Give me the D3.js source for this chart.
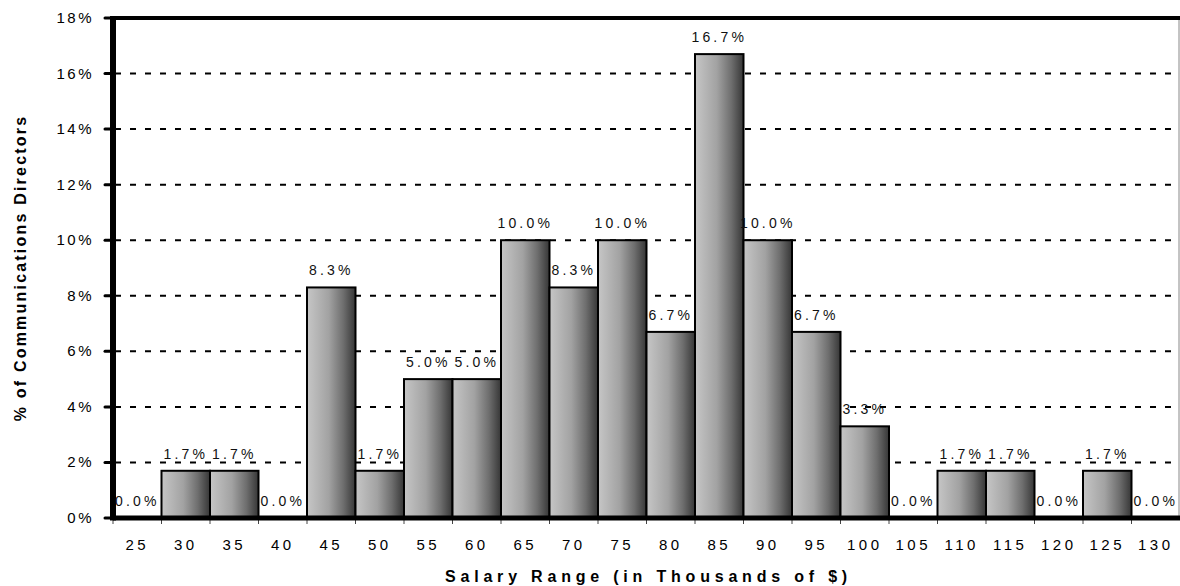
<!DOCTYPE html>
<html>
<head>
<meta charset="utf-8">
<script src="https://cdn.jsdelivr.net/npm/d3@7"></script>
<style>
  body { margin: 0; background: #fff; }
  text { font-family: "Liberation Sans", Arial, sans-serif; }
</style>
</head>
<body>
<script>
// Salary bins (thousands of $) and share of directors in each
const salaries = ['25', '30', '35', '40', '45', '50', '55', '60', '65', '70', '75',
                  '80', '85', '90', '95', '100', '105', '110', '115', '120', '125', '130']
const shares = [0.0, 1.7, 1.7, 0.0, 8.3, 1.7, 5.0, 5.0, 10.0, 8.3, 10.0,
                6.7, 16.7, 10.0, 6.7, 3.3, 0.0, 1.7, 1.7, 0.0, 1.7, 0.0]
const yTicks = [0, 2, 4, 6, 8, 10, 12, 14, 16, 18]

const width = 1180
const height = 586
const margin = {top: 18, right: 0, bottom: 68, left: 113}

const data = salaries.map((s, i) => ({salary: s, share: shares[i]}))

const svg = d3.select('body')
    .append('svg')
    .attr('width', width)
    .attr('height', height)

// bar gradient
const grad = svg.append('defs')
    .append('linearGradient')
    .attr('id', 'barGrad')
    .attr('x1', '0%').attr('x2', '100%')
    .attr('y1', '0%').attr('y2', '0%')
grad.append('stop').attr('offset', '0%').attr('stop-color', '#c6c6c6')
grad.append('stop').attr('offset', '45%').attr('stop-color', '#a2a2a2')
grad.append('stop').attr('offset', '75%').attr('stop-color', '#6e6e6e')
grad.append('stop').attr('offset', '100%').attr('stop-color', '#363636')

const xScale = d3.scaleBand()
    .domain(salaries)
    .range([margin.left, width - margin.right])
    .padding(0)

const yScale = d3.scaleLinear()
    .domain([0, 18])
    .range([height - margin.bottom, margin.top])

const y0 = yScale(0)
const plotMid = (margin.left + width - margin.right) / 2

// dashed grid lines
svg.append('g')
    .attr('class', 'grid')
    .selectAll('line')
    .data(yTicks.filter(d => d > 0 && d < 18))
    .enter()
    .append('line')
        .attr('x1', margin.left)
        .attr('x2', width - margin.right)
        .attr('y1', d => yScale(d))
        .attr('y2', d => yScale(d))
        .attr('stroke', '#000')
        .attr('stroke-width', 2)
        .attr('stroke-dasharray', '6,9')
        .attr('stroke-dashoffset', -2)

// bars
svg.append('g')
    .selectAll('rect')
    .data(data.filter(d => d.share > 0))
    .enter()
    .append('rect')
        .attr('x', d => xScale(d.salary))
        .attr('y', d => yScale(d.share))
        .attr('width', xScale.bandwidth())
        .attr('height', d => y0 - yScale(d.share))
        .attr('fill', 'url(#barGrad)')
        .attr('stroke', '#000')
        .attr('stroke-width', 2)

// x axis ticks at band edges
svg.append('g')
    .selectAll('line')
    .data(salaries)
    .enter()
    .append('line')
        .attr('x1', d => xScale(d))
        .attr('x2', d => xScale(d))
        .attr('y1', y0)
        .attr('y2', y0 + 6)
        .attr('stroke', '#444')
        .attr('stroke-width', 1)

// x tick labels
svg.append('g')
    .selectAll('text')
    .data(salaries)
    .enter()
    .append('text')
        .attr('x', d => xScale(d) + xScale.bandwidth() / 2)
        .attr('y', 550)
        .attr('text-anchor', 'middle')
        .attr('font-size', 15)
        .attr('letter-spacing', 3.5)
        .text(d => d)

// y ticks + labels
const yAxis = svg.append('g')
yAxis.selectAll('line')
    .data(yTicks)
    .enter()
    .append('line')
        .attr('x1', 105)
        .attr('x2', margin.left)
        .attr('y1', d => yScale(d))
        .attr('y2', d => yScale(d))
        .attr('stroke', '#000')
        .attr('stroke-width', 3)
        .attr('stroke-linecap', 'round')
yAxis.selectAll('text')
    .data(yTicks)
    .enter()
    .append('text')
        .attr('x', 94)
        .attr('y', d => yScale(d) + 5)
        .attr('text-anchor', 'end')
        .attr('font-size', 15)
        .attr('letter-spacing', 2.5)
        .text(d => d + '%')

// frame
svg.append('line')
    .attr('x1', width - 1).attr('x2', width - 1)
    .attr('y1', margin.top).attr('y2', y0)
    .attr('stroke', '#888').attr('stroke-width', 1)
svg.append('line')
    .attr('x1', margin.left).attr('x2', width)
    .attr('y1', margin.top).attr('y2', margin.top)
    .attr('stroke', '#000').attr('stroke-width', 4)
svg.append('line')
    .attr('x1', margin.left).attr('x2', width)
    .attr('y1', y0).attr('y2', y0)
    .attr('stroke', '#000').attr('stroke-width', 5)
svg.append('line')
    .attr('x1', margin.left).attr('x2', margin.left)
    .attr('y1', margin.top - 2).attr('y2', y0 + 2.5)
    .attr('stroke', '#000').attr('stroke-width', 6)

// value labels
svg.append('g')
    .selectAll('text')
    .data(data)
    .enter()
    .append('text')
        .attr('x', d => xScale(d.salary) + xScale.bandwidth() / 2)
        .attr('y', d => yScale(d.share) - 12)
        .attr('text-anchor', 'middle')
        .attr('font-size', 14)
        .attr('letter-spacing', 3.2)
        .attr('fill', '#111')
        .text(d => d.share.toFixed(1) + '%')

// axis titles
svg.append('text')
    .attr('x', plotMid + 2)
    .attr('y', 582)
    .attr('text-anchor', 'middle')
    .attr('font-size', 16)
    .attr('font-weight', 'bold')
    .attr('letter-spacing', 4.8)
    .text('Salary Range (in Thousands of $)')

svg.append('text')
    .attr('transform', `translate(26, ${(margin.top + y0) / 2}) rotate(-90)`)
    .attr('text-anchor', 'middle')
    .attr('font-size', 16)
    .attr('font-weight', 'bold')
    .attr('letter-spacing', 2.2)
    .text('% of Communications Directors')
</script>
</body>
</html>
